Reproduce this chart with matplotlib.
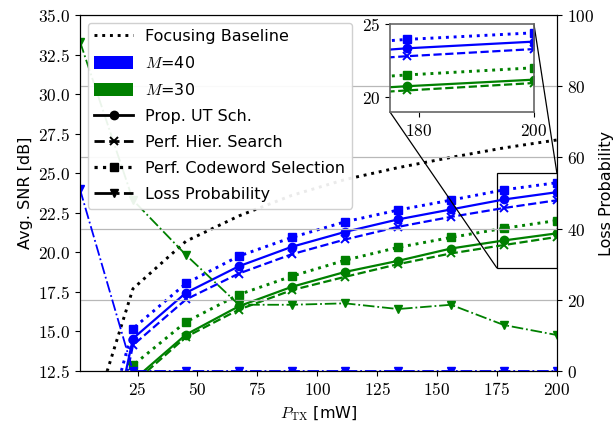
import numpy as np
import matplotlib
matplotlib.use("Agg")
import matplotlib.pyplot as plt
from matplotlib.ticker import FuncFormatter, FixedLocator
from matplotlib.lines import Line2D
from matplotlib.patches import Patch
from mpl_toolkits.axes_grid1.inset_locator import mark_inset

plt.rcParams["mathtext.fontset"] = "cm"
plt.rcParams["font.family"] = ["DejaVu Sans"]

# transmit power [mW]
p_tx = [1, 23.1, 45.2, 67.3, 89.4, 111.6, 133.7, 155.8, 177.9, 200]

# average SNR [dB]
focus = [7.0, 17.7, 20.7, 22.3, 23.6, 24.6, 25.35, 26.0, 26.6, 27.1]
m40_prop = [-1.0, 14.55, 17.44, 19.12, 20.35, 21.29, 22.08, 22.71, 23.34, 23.8]
m40_hier = [-2.0, 14.13, 17.02, 18.66, 19.88, 20.81, 21.61, 22.24, 22.8, 23.29]
m40_cw = [3.0, 15.18, 18.03, 19.76, 20.94, 21.93, 22.67, 23.30, 23.95, 24.4]
m30_prop = [-6.0, 11.9, 14.8, 16.59, 17.82, 18.76, 19.46, 20.24, 20.75, 21.2]
m30_hier = [-6.5, 11.7, 14.65, 16.38, 17.61, 18.45, 19.25, 19.93, 20.46, 20.97]
m30_cw = [-3.0, 12.86, 15.60, 17.33, 18.49, 19.50, 20.31, 20.94, 21.52, 22.01]

# loss probability [%]
m40_loss = [51, 0, 0, 0, 0, 0, 0, 0, 0, 0]
m30_loss = [92.5, 48, 32.6, 18.6, 18.6, 19.0, 17.4, 18.6, 12.9, 10.1]

snr_ticks = [12.5, 15.0, 17.5, 20.0, 22.5, 25.0, 27.5, 30.0, 32.5, 35.0]
loss_ticks = [0, 20, 40, 60, 80, 100]
p_ticks = [25, 50, 75, 100, 125, 150, 175, 200]

TICK_FS = 12.5
LABEL_FS = 11.5
LW = 1.6
DOT_LW = 2.1
MS = 6

fmt1 = FuncFormatter(lambda v, p: r"$%.1f$" % v)
fmt0 = FuncFormatter(lambda v, p: r"$%d$" % round(v))

fig = plt.figure(figsize=(6.13, 4.22), dpi=100)
ax = fig.add_axes([0.1305, 0.1209, 0.778, 0.8436])
ax2 = ax.twinx()


def draw_snr(a):
    a.plot(p_tx, focus, color="k", ls=":", lw=DOT_LW)
    for col, prop, hier, cw in (("blue", m40_prop, m40_hier, m40_cw),
                                ("green", m30_prop, m30_hier, m30_cw)):
        a.plot(p_tx, cw, color=col, ls=":", lw=DOT_LW, marker="s", ms=MS)
        a.plot(p_tx, prop, color=col, ls="-", lw=LW, marker="o", ms=MS)
        a.plot(p_tx, hier, color=col, ls="--", lw=LW, marker="x", ms=MS,
               mew=1.4)


draw_snr(ax)
ax.set_xlim(1, 200)
ax.set_ylim(12.5, 35)
ax.yaxis.set_major_locator(FixedLocator(snr_ticks))
ax.yaxis.set_major_formatter(fmt1)
ax.xaxis.set_major_locator(FixedLocator(p_ticks))
ax.xaxis.set_major_formatter(fmt0)
ax.tick_params(labelsize=TICK_FS)
ax.set_ylabel("Avg. SNR [dB]", fontsize=LABEL_FS)
ax.set_xlabel(r"$P_{\mathrm{TX}}$ [mW]", fontsize=LABEL_FS)

ax2.plot(p_tx, m30_loss, color="green", ls="-.", lw=1.3, marker="v", ms=MS)
ax2.plot(p_tx, m40_loss, color="blue", ls="-.", lw=1.3, marker="v", ms=MS)
ax2.set_ylim(0, 100)
ax2.yaxis.set_major_locator(FixedLocator(loss_ticks))
ax2.yaxis.set_major_formatter(fmt0)
ax2.tick_params(labelsize=TICK_FS)
ax2.set_ylabel("Loss Probability", fontsize=LABEL_FS)
ax2.grid(axis="y", color="#b8b8b8", lw=0.9)

handles = [
    Line2D([], [], color="k", ls=":", lw=DOT_LW),
    Patch(facecolor="blue"),
    Patch(facecolor="green"),
    Line2D([], [], color="k", ls="-", lw=LW + 0.4, marker="o", ms=MS),
    Line2D([], [], color="k", ls="--", lw=LW + 0.4, marker="x", ms=MS, mew=1.4),
    Line2D([], [], color="k", ls=":", lw=DOT_LW + 0.2, marker="s", ms=MS),
    Line2D([], [], color="k", ls="-.", lw=LW + 0.4, marker="v", ms=MS),
]
labels = ["Focusing Baseline", r"$M$=40", r"$M$=30", "Prop. UT Sch.",
          "Perf. Hier. Search", "Perf. Codeword Selection", "Loss Probability"]
leg = ax2.legend(handles, labels, loc="upper left", fontsize=LABEL_FS,
                 handlelength=2.4, handleheight=0.9, labelspacing=0.68,
                 framealpha=0.92)

# zoomed view of the high-power end
axins = fig.add_axes([0.636, 0.735, 0.235, 0.208])
draw_snr(axins)
axins.set_xlim(175, 200)
axins.set_ylim(19, 25)
axins.xaxis.set_major_locator(FixedLocator([180, 200]))
axins.yaxis.set_major_locator(FixedLocator([20, 25]))
axins.xaxis.set_major_formatter(fmt0)
axins.yaxis.set_major_formatter(fmt0)
axins.tick_params(labelsize=TICK_FS)
for s in axins.spines.values():
    s.set_edgecolor("0.4")
    s.set_linewidth(1.2)
mark_inset(ax, axins, loc1=1, loc2=3, fc="none", ec="k", lw=0.9)

fig.savefig("out.png", dpi=100)
